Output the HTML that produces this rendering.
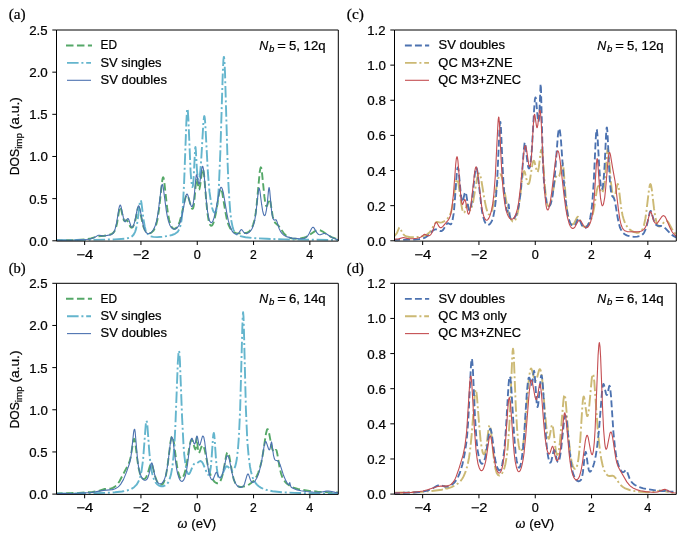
<!DOCTYPE html><html><head><meta charset="utf-8"><style>html,body{margin:0;padding:0;background:#fff;}svg{display:block;will-change:transform;}</style></head><body>
<svg width="685" height="540" viewBox="0 0 685 540" font-family='"Liberation Sans", sans-serif' fill="#000">
<style>text{stroke:#000;stroke-width:0.22px;}</style>
<rect width="685" height="540" fill="#fff"/>
<clipPath id="clipa"><rect x="56.5" y="30.0" width="281.5" height="210.8"/></clipPath>
<g clip-path="url(#clipa)" fill="none" stroke-linejoin="round">
<path d="M55.1,240.5 74.2,240.1 85.4,239.3 90.9,238.4 98.4,236.2 104.3,235.8 107.1,235.3 109.8,234.6 111.8,233.8 113.2,232.9 114.2,231.7 115.0,230.3 115.9,228.1 117.1,223.0 119.3,209.2 119.9,207.2 120.3,206.9 120.7,207.6 121.1,208.9 122.8,216.9 123.8,220.1 124.2,220.7 124.6,220.9 125.0,220.9 126.4,220.1 127.0,220.2 127.8,221.4 130.1,226.3 130.9,227.3 131.7,227.7 132.3,227.4 132.9,226.9 134.1,224.4 135.4,220.1 137.6,209.4 138.2,207.7 138.6,207.4 138.8,207.5 139.2,208.2 139.8,210.3 142.7,224.2 143.5,226.9 144.5,229.4 145.9,231.6 147.6,232.8 149.4,233.2 150.4,233.0 151.4,232.6 153.3,230.9 154.9,228.3 156.1,225.1 157.3,220.3 159.1,208.9 162.0,182.2 162.6,178.5 163.0,177.4 163.2,177.3 163.6,178.0 164.2,181.2 167.1,207.4 168.1,214.5 169.1,219.7 170.5,224.5 171.9,227.3 172.8,228.2 173.6,228.7 174.4,228.8 175.4,228.6 176.6,227.6 177.6,226.2 178.7,224.2 179.7,221.5 181.5,214.9 184.8,200.0 185.6,197.2 186.4,195.6 186.8,195.3 187.2,195.3 187.6,195.7 188.2,196.8 190.8,205.8 191.7,208.0 192.1,208.7 192.5,208.9 193.1,208.2 193.7,205.9 194.3,201.6 195.9,182.8 196.5,178.7 196.7,178.4 197.1,179.3 198.6,188.3 199.0,189.3 199.2,189.4 199.4,189.1 200.2,185.2 202.0,171.2 202.4,169.5 202.8,169.0 203.4,170.7 204.1,175.1 206.5,204.0 207.5,213.6 208.7,220.9 209.3,223.2 210.2,225.0 210.6,225.5 211.2,225.8 211.6,225.7 212.2,225.2 213.2,223.5 214.2,220.7 216.0,212.6 219.3,192.5 220.1,189.4 220.5,188.6 220.9,188.5 221.5,189.6 222.3,192.9 225.2,210.8 226.8,219.0 228.4,224.6 230.3,228.5 231.5,230.2 232.9,231.6 234.3,232.4 236.2,233.1 238.6,233.4 241.7,233.4 244.7,233.1 246.9,232.6 248.2,232.0 249.4,231.2 250.4,230.2 251.4,228.7 253.0,225.1 254.5,219.9 255.7,212.9 256.7,204.7 259.7,172.0 260.4,168.3 260.8,167.3 261.2,167.7 261.8,170.7 264.4,196.7 265.2,202.5 265.8,205.1 266.4,206.2 266.7,206.2 267.1,205.8 268.9,199.8 269.3,199.1 269.7,199.3 270.5,202.2 272.7,216.4 273.4,219.0 274.2,221.3 275.4,223.1 277.6,224.9 279.0,226.4 283.5,232.8 285.8,235.3 288.4,237.2 291.6,238.4 295.9,238.8 300.6,238.4 303.4,237.8 306.1,236.8 308.7,235.4 315.0,231.1 317.1,230.3 319.1,230.1 320.7,230.5 322.3,231.3 328.2,235.3 331.5,237.1 335.1,238.4 339.4,239.4" stroke="#55A868" stroke-width="1.9" stroke-dasharray="7.5 3.45"/>
<path d="M55.1,240.2 92.9,239.9 114.8,239.4 125.0,238.7 128.1,238.1 130.3,237.4 132.3,236.1 133.7,234.5 135.0,232.1 136.0,229.1 136.8,225.5 137.6,220.5 139.8,202.7 140.2,200.9 140.7,200.3 141.1,201.1 141.5,203.1 143.5,219.3 144.7,226.5 145.5,229.6 146.3,231.8 147.4,233.6 148.6,235.0 150.6,236.3 153.3,236.9 157.1,237.1 162.0,236.8 167.5,236.1 171.9,235.0 175.0,233.8 177.2,232.3 178.2,231.1 179.3,229.3 180.7,224.9 181.7,219.0 182.7,208.9 184.1,183.1 186.4,121.0 187.0,110.9 187.4,108.7 187.8,110.4 188.4,119.5 190.6,171.8 191.3,180.6 192.1,186.5 192.3,187.0 192.5,187.0 192.9,185.8 193.5,180.5 195.1,149.4 195.3,147.4 195.5,147.0 195.9,151.1 196.9,169.6 197.6,176.5 198.0,179.0 198.2,179.6 198.6,180.1 199.0,179.5 199.6,176.8 200.4,170.1 201.2,160.0 203.4,122.2 204.1,116.6 204.3,116.1 204.5,116.3 204.9,119.0 205.3,124.2 207.9,172.7 209.5,191.9 210.8,201.1 212.2,208.0 213.0,210.5 213.8,212.1 214.6,212.7 215.2,212.4 215.8,211.3 216.3,210.1 217.3,204.8 218.1,197.3 218.9,185.9 220.3,153.1 222.8,72.4 223.4,60.2 223.8,56.9 224.0,56.9 224.4,60.1 225.0,72.4 227.6,162.4 228.4,183.5 229.3,199.0 230.3,212.2 231.3,220.6 232.7,227.4 233.5,229.8 234.5,231.8 235.6,233.2 236.8,234.4 238.4,235.3 240.2,236.1 245.5,237.2 253.8,238.1 266.9,238.8 284.5,239.4 339.4,240.1" stroke="#64B5CD" stroke-width="1.9" stroke-dasharray="11.6 2.8 2.0 2.8"/>
<path d="M55.1,240.4 75.8,240.1 86.6,239.5 90.0,239.0 92.7,238.3 94.5,237.5 97.6,235.6 98.6,235.2 99.6,235.2 102.2,235.9 104.1,236.0 110.2,234.9 111.8,234.4 112.8,233.6 113.6,232.6 114.4,231.0 115.2,228.7 116.7,222.3 118.9,208.7 119.5,206.2 120.1,205.1 120.5,205.3 121.1,206.8 123.4,217.7 124.4,221.0 125.0,221.8 125.6,221.7 127.4,218.8 128.1,218.6 128.9,219.9 130.9,226.0 131.5,227.0 132.1,227.3 132.9,226.7 133.9,224.3 135.0,220.3 137.4,208.3 138.2,206.1 138.6,205.8 138.8,205.9 139.4,206.9 140.0,209.1 142.9,223.8 143.7,227.1 144.7,230.1 145.7,232.0 147.0,233.2 148.4,233.7 150.0,233.3 151.8,231.8 153.7,229.2 155.1,226.0 156.3,221.9 157.3,217.3 158.3,211.1 161.2,188.1 161.8,185.1 162.2,184.4 162.6,184.7 163.2,187.1 166.3,210.6 167.3,216.4 168.5,221.4 169.9,225.2 170.7,226.6 171.7,227.9 172.8,228.7 173.8,229.1 174.8,229.1 175.8,228.8 177.2,227.7 178.5,226.0 179.7,223.6 180.7,220.7 182.5,213.2 185.4,197.9 186.0,195.6 186.6,194.3 186.8,194.1 187.2,194.1 188.0,195.6 190.2,203.8 191.1,205.9 191.5,206.5 191.9,206.7 192.3,206.4 192.7,205.6 193.3,203.2 193.9,199.2 195.7,179.5 196.3,175.2 196.5,174.7 196.7,174.7 196.9,175.2 198.4,182.8 198.8,183.9 199.0,184.1 199.2,184.0 199.6,183.0 200.0,181.2 201.8,168.6 202.2,166.9 202.6,166.3 202.8,166.4 203.2,167.8 203.9,172.0 206.3,200.3 207.5,211.1 208.9,218.8 209.7,221.1 210.8,222.5 211.6,222.6 212.4,221.8 213.2,220.2 214.0,217.9 215.6,211.2 219.3,191.6 220.3,188.3 220.9,187.4 221.3,187.4 221.7,187.7 222.3,189.0 223.4,193.0 226.8,213.1 228.4,220.9 230.1,226.6 231.9,230.6 232.9,232.1 233.9,233.1 234.9,233.8 236.0,234.1 237.2,234.0 238.2,233.5 239.2,232.4 240.8,229.9 241.5,229.6 242.1,230.0 243.9,232.5 244.9,233.3 246.5,233.6 247.5,233.3 248.6,232.8 250.4,231.2 252.0,228.7 253.2,225.8 254.5,221.5 255.9,213.3 258.1,193.1 258.9,188.4 259.1,188.1 259.3,188.3 259.9,190.8 261.6,204.2 262.6,210.7 263.6,214.5 264.2,215.4 264.6,215.6 265.2,215.0 265.6,213.9 266.4,210.1 267.3,203.4 268.5,190.4 268.9,187.9 269.1,187.6 269.3,188.0 269.7,190.6 271.5,210.4 272.1,214.7 273.0,218.2 273.4,219.2 274.0,220.0 274.6,220.1 275.8,219.7 276.4,220.2 277.0,221.6 279.0,228.2 280.1,230.6 281.7,233.2 283.7,235.1 285.3,236.1 287.2,236.9 292.3,238.1 299.4,238.8 302.0,238.8 304.0,238.5 305.9,237.7 307.5,236.2 308.9,234.0 311.6,228.5 312.4,227.5 313.0,227.3 313.4,227.4 314.0,227.9 316.8,232.7 317.7,233.7 318.7,234.5 319.5,234.7 320.3,234.7 323.8,233.5 325.6,233.5 327.0,234.2 330.7,236.8 332.9,238.1 335.7,239.1 339.4,239.7" stroke="#4C72B0" stroke-width="1.1"/>
</g>
<path d="M56.5,30.0H338.3V241.10000000000002H56.5Z" fill="none" stroke="#000" stroke-width="1.0" stroke-linejoin="miter"/>
<path d="M84.65,241.10v3.9 M140.95,241.10v3.9 M197.25,241.10v3.9 M253.55,241.10v3.9 M309.85,241.10v3.9 M56.50,240.80h-4.2 M56.50,198.64h-4.2 M56.50,156.48h-4.2 M56.50,114.32h-4.2 M56.50,72.16h-4.2 M56.50,30.00h-4.2" stroke="#000" stroke-width="1.0" fill="none"/>
<text x="76.35" y="258.90" font-size="12.20" textLength="16.91" lengthAdjust="spacingAndGlyphs">−4</text>
<text x="132.66" y="258.90" font-size="12.20" textLength="16.67" lengthAdjust="spacingAndGlyphs">−2</text>
<text x="193.73" y="258.90" font-size="12.20" textLength="7.04" lengthAdjust="spacingAndGlyphs">0</text>
<text x="250.00" y="258.90" font-size="12.20" textLength="6.78" lengthAdjust="spacingAndGlyphs">2</text>
<text x="306.33" y="258.90" font-size="12.20" textLength="7.04" lengthAdjust="spacingAndGlyphs">4</text>
<text x="29.29" y="245.80" font-size="12.20" textLength="18.54" lengthAdjust="spacingAndGlyphs">0.0</text>
<text x="29.29" y="203.64" font-size="12.20" textLength="18.31" lengthAdjust="spacingAndGlyphs">0.5</text>
<text x="29.32" y="161.48" font-size="12.20" textLength="18.50" lengthAdjust="spacingAndGlyphs">1.0</text>
<text x="29.33" y="119.32" font-size="12.20" textLength="18.27" lengthAdjust="spacingAndGlyphs">1.5</text>
<text x="29.22" y="77.16" font-size="12.20" textLength="18.60" lengthAdjust="spacingAndGlyphs">2.0</text>
<text x="29.23" y="35.00" font-size="12.20" textLength="18.38" lengthAdjust="spacingAndGlyphs">2.5</text>
<path d="M66.00,45.50h26" stroke="#55A868" stroke-width="1.9" stroke-dasharray="7.5 3.45" fill="none"/>
<text x="100.50" y="49.20" font-size="12.20" textLength="16.48" lengthAdjust="spacingAndGlyphs">ED</text>
<path d="M67.00,62.90h24" stroke="#64B5CD" stroke-width="1.9" stroke-dasharray="11.6 2.8 2.0 2.8" fill="none"/>
<text x="100.50" y="66.60" font-size="12.20" textLength="61.10" lengthAdjust="spacingAndGlyphs">SV singles</text>
<path d="M67.00,80.30h24" stroke="#4C72B0" stroke-width="1.1" fill="none"/>
<text x="100.50" y="84.00" font-size="12.20" textLength="66.47" lengthAdjust="spacingAndGlyphs">SV doubles</text>
<text x="259.30" y="49.90" font-size="12.2" text-anchor="start" textLength="8.98" lengthAdjust="spacingAndGlyphs" font-style="italic">N</text>
<text x="269.10" y="51.90" font-size="8.6" text-anchor="start" textLength="5.33" lengthAdjust="spacingAndGlyphs" font-style="italic">b</text>
<text x="277.30" y="49.90" font-size="12.2" text-anchor="start" textLength="8.60" lengthAdjust="spacingAndGlyphs">=</text>
<text x="289.00" y="49.90" font-size="12.2" text-anchor="start" textLength="36.55" lengthAdjust="spacingAndGlyphs">5, 12q</text>
<clipPath id="clipb"><rect x="56.5" y="283.3" width="281.5" height="210.8"/></clipPath>
<g clip-path="url(#clipb)" fill="none" stroke-linejoin="round">
<path d="M55.1,493.4 78.9,492.9 92.5,492.0 98.4,491.0 104.7,489.0 109.2,488.8 110.8,488.6 112.8,487.9 114.6,486.9 117.1,484.7 119.5,481.3 128.9,463.3 129.9,460.3 130.7,457.0 133.1,442.1 133.7,439.5 134.1,438.8 134.6,439.3 135.2,442.1 137.4,460.2 138.6,468.0 140.0,473.8 141.5,477.2 142.5,478.5 143.7,479.1 144.7,478.9 145.7,477.9 146.5,476.5 147.4,474.5 150.2,465.1 150.8,464.0 151.4,463.8 151.8,464.3 152.4,465.7 155.3,476.8 156.9,481.3 157.9,483.1 159.1,484.4 160.4,485.0 161.6,484.9 162.8,483.9 163.8,482.2 164.8,479.6 165.9,475.7 167.5,466.3 170.5,442.1 171.3,437.9 171.7,436.7 172.2,436.3 172.6,436.6 173.0,437.7 173.8,441.7 176.4,462.0 177.8,470.7 179.3,476.0 179.9,477.3 180.7,478.3 181.1,478.6 181.7,478.5 182.3,478.1 182.9,477.4 183.9,475.2 185.0,471.9 186.6,464.3 189.6,445.6 190.8,440.8 191.3,440.1 191.7,439.9 192.1,440.1 192.5,440.8 194.7,448.2 195.3,449.4 195.7,448.7 195.9,447.4 196.7,437.7 196.9,437.3 198.0,450.2 198.4,452.4 198.8,452.9 199.4,452.3 201.2,447.5 202.0,445.8 202.4,445.4 202.8,445.3 203.4,446.0 204.7,449.7 207.7,464.7 209.5,471.9 210.6,474.9 211.8,477.7 213.0,479.9 214.4,481.7 216.3,483.0 217.3,483.3 218.1,483.2 219.5,482.3 220.9,480.0 221.9,477.2 223.0,473.2 226.2,455.6 227.0,452.9 227.6,452.2 228.2,452.7 229.1,455.2 232.7,475.3 233.9,479.9 235.2,483.0 236.8,485.3 237.8,486.1 238.8,486.6 240.0,486.8 241.7,486.9 245.1,486.2 247.3,485.4 249.4,484.3 251.2,483.0 253.0,481.4 254.5,479.7 255.9,477.7 257.1,475.4 258.3,472.6 259.9,467.8 261.4,462.0 263.0,453.3 266.0,433.4 266.9,430.0 267.3,429.2 267.7,429.1 268.3,429.9 268.9,432.0 271.3,444.9 272.5,449.7 273.4,451.5 274.0,451.9 274.6,451.6 275.8,449.9 276.2,449.9 276.6,450.6 277.4,454.3 279.5,467.1 281.1,473.8 282.3,477.1 283.5,479.5 285.1,481.8 287.0,483.8 289.8,485.8 293.5,487.6 297.7,488.9 303.0,490.0 309.5,490.9 317.5,491.6 322.5,491.9 324.2,491.5 326.4,492.1 339.4,492.6" stroke="#55A868" stroke-width="1.9" stroke-dasharray="7.5 3.45"/>
<path d="M55.1,493.7 93.9,493.2 106.1,492.8 115.0,492.3 122.0,491.5 127.0,490.5 131.1,489.1 134.1,487.2 136.6,484.7 138.6,481.3 140.2,476.7 141.5,471.3 143.1,459.5 145.7,425.3 146.1,421.9 146.5,420.7 147.0,422.1 147.4,425.7 149.2,450.7 150.2,461.4 151.4,470.0 153.0,476.9 154.3,480.1 155.5,482.3 157.1,484.2 158.9,485.5 161.2,486.3 163.4,486.2 165.4,485.4 167.1,484.0 168.3,482.3 169.3,480.2 170.9,474.8 172.4,466.7 173.6,455.3 174.6,441.0 175.4,425.3 177.8,362.8 178.5,353.0 178.9,350.7 179.1,350.9 179.3,352.1 179.9,360.6 182.1,417.7 183.5,444.9 184.3,455.2 185.4,464.1 186.4,469.6 187.4,472.8 187.8,473.5 188.4,474.0 189.0,474.0 189.6,473.4 190.6,471.4 192.7,466.1 193.9,464.1 194.7,463.6 196.9,463.2 199.6,461.3 200.6,461.0 201.6,461.5 202.8,463.2 207.3,473.8 208.3,474.9 208.7,474.9 209.1,474.5 210.0,472.3 210.8,467.1 211.6,458.2 213.0,437.9 213.4,434.2 213.8,433.0 214.2,434.6 214.6,438.5 216.0,459.6 216.9,468.9 217.7,474.5 218.1,476.2 218.7,477.7 219.1,478.2 219.7,478.4 220.3,478.0 220.9,477.3 222.1,475.1 225.0,468.4 225.8,467.0 226.4,466.4 227.0,466.3 227.8,466.6 230.3,469.5 231.3,470.4 232.3,470.6 233.3,470.1 234.3,468.5 235.2,466.4 236.0,463.3 236.8,459.0 238.0,448.8 239.0,435.1 240.2,407.7 242.3,328.5 242.7,316.5 243.1,312.2 243.5,316.7 243.9,328.8 245.9,409.0 247.3,440.6 248.6,455.9 250.0,466.7 250.8,470.8 251.8,474.8 252.8,477.8 254.1,480.5 255.5,482.8 256.9,484.6 258.7,486.3 260.8,487.6 263.2,488.8 265.8,489.8 272.5,491.2 281.7,492.2 294.7,492.9 313.0,493.3 339.4,493.6" stroke="#64B5CD" stroke-width="1.9" stroke-dasharray="11.6 2.8 2.0 2.8"/>
<path d="M55.1,493.6 78.1,493.2 90.7,492.5 95.3,491.9 103.7,490.4 112.4,489.6 115.2,488.8 117.9,487.1 119.3,485.8 120.7,484.1 123.4,479.6 126.4,472.4 129.3,464.0 130.5,459.0 131.3,454.1 133.5,433.4 133.9,430.6 134.4,429.3 134.6,429.3 134.8,429.8 135.2,432.2 137.4,457.7 138.2,464.6 139.0,469.4 140.0,473.5 141.5,477.1 142.9,479.2 143.7,479.9 144.5,480.3 145.5,480.3 146.3,479.8 147.2,478.9 148.0,477.3 149.2,473.4 151.0,464.6 151.4,463.3 151.8,462.9 152.2,463.4 152.6,464.8 155.1,476.7 156.1,479.7 157.1,481.7 157.9,482.8 158.7,483.4 159.6,483.8 160.4,483.8 161.2,483.6 162.0,483.1 163.4,481.4 164.4,479.4 165.2,477.1 166.7,471.1 168.1,462.0 170.5,441.9 171.3,437.8 171.7,437.0 171.9,437.0 172.6,438.4 173.2,441.8 175.8,463.2 176.6,468.6 177.6,473.6 178.9,477.7 180.1,480.2 181.3,481.3 182.1,481.4 182.7,481.1 183.7,479.9 184.5,478.3 185.4,475.8 186.2,472.4 187.6,463.8 190.0,444.5 190.6,440.9 191.3,438.8 191.7,438.2 191.9,438.2 192.3,438.6 193.9,443.1 194.3,443.9 194.7,444.0 195.3,442.9 196.7,436.4 196.9,436.1 197.1,436.2 197.6,437.5 198.8,443.9 199.2,444.9 199.6,445.2 200.0,444.7 200.4,443.7 202.2,437.1 202.6,436.3 203.0,436.0 203.4,436.5 203.9,437.6 204.7,441.8 207.3,462.6 208.7,471.5 210.2,477.0 211.0,478.8 211.8,479.7 212.6,479.7 213.4,478.8 215.6,473.1 216.3,472.3 216.7,472.3 217.1,472.9 218.5,476.2 219.3,477.5 220.1,477.9 220.5,477.7 221.1,477.1 221.9,475.4 223.0,472.2 226.2,458.0 227.0,456.0 227.6,455.7 228.0,456.0 228.4,456.7 229.3,459.4 232.1,473.1 233.7,479.3 235.4,483.2 237.2,485.8 238.6,486.8 240.2,487.4 241.9,487.2 243.1,486.4 243.9,485.3 244.5,484.0 246.9,475.7 247.5,474.3 248.0,474.0 248.4,474.3 248.8,475.1 250.4,479.8 251.2,481.4 251.8,482.1 252.4,482.4 253.6,482.1 255.1,480.8 256.7,478.2 258.1,475.1 259.3,471.4 261.4,462.6 264.2,445.6 265.2,441.9 265.6,441.5 266.2,441.9 268.5,448.7 268.9,449.5 269.3,449.9 269.7,449.6 270.1,448.5 271.1,443.1 271.5,441.9 271.9,443.3 273.4,454.8 274.4,458.8 274.8,459.6 275.4,460.2 277.6,460.8 278.8,462.0 280.1,464.6 283.7,475.8 285.8,480.6 287.4,483.4 288.6,484.7 289.0,484.6 289.8,482.5 290.6,486.0 291.0,486.9 291.6,487.5 294.1,488.8 297.1,489.9 301.0,490.8 305.9,491.5 312.8,492.0 318.7,492.2 321.7,492.0 326.6,491.1 328.4,491.0 330.3,491.2 335.3,492.4 339.4,492.9" stroke="#4C72B0" stroke-width="1.1"/>
</g>
<path d="M56.5,283.3H338.3V494.40000000000003H56.5Z" fill="none" stroke="#000" stroke-width="1.0" stroke-linejoin="miter"/>
<path d="M84.65,494.40v3.9 M140.95,494.40v3.9 M197.25,494.40v3.9 M253.55,494.40v3.9 M309.85,494.40v3.9 M56.50,494.10h-4.2 M56.50,451.94h-4.2 M56.50,409.78h-4.2 M56.50,367.62h-4.2 M56.50,325.46h-4.2 M56.50,283.30h-4.2" stroke="#000" stroke-width="1.0" fill="none"/>
<text x="76.35" y="512.20" font-size="12.20" textLength="16.91" lengthAdjust="spacingAndGlyphs">−4</text>
<text x="132.66" y="512.20" font-size="12.20" textLength="16.67" lengthAdjust="spacingAndGlyphs">−2</text>
<text x="193.73" y="512.20" font-size="12.20" textLength="7.04" lengthAdjust="spacingAndGlyphs">0</text>
<text x="250.00" y="512.20" font-size="12.20" textLength="6.78" lengthAdjust="spacingAndGlyphs">2</text>
<text x="306.33" y="512.20" font-size="12.20" textLength="7.04" lengthAdjust="spacingAndGlyphs">4</text>
<text x="29.29" y="499.10" font-size="12.20" textLength="18.54" lengthAdjust="spacingAndGlyphs">0.0</text>
<text x="29.29" y="456.94" font-size="12.20" textLength="18.31" lengthAdjust="spacingAndGlyphs">0.5</text>
<text x="29.32" y="414.78" font-size="12.20" textLength="18.50" lengthAdjust="spacingAndGlyphs">1.0</text>
<text x="29.33" y="372.62" font-size="12.20" textLength="18.27" lengthAdjust="spacingAndGlyphs">1.5</text>
<text x="29.22" y="330.46" font-size="12.20" textLength="18.60" lengthAdjust="spacingAndGlyphs">2.0</text>
<text x="29.23" y="288.30" font-size="12.20" textLength="18.38" lengthAdjust="spacingAndGlyphs">2.5</text>
<path d="M66.00,298.80h26" stroke="#55A868" stroke-width="1.9" stroke-dasharray="7.5 3.45" fill="none"/>
<text x="100.50" y="302.50" font-size="12.20" textLength="16.48" lengthAdjust="spacingAndGlyphs">ED</text>
<path d="M67.00,316.20h24" stroke="#64B5CD" stroke-width="1.9" stroke-dasharray="11.6 2.8 2.0 2.8" fill="none"/>
<text x="100.50" y="319.90" font-size="12.20" textLength="61.10" lengthAdjust="spacingAndGlyphs">SV singles</text>
<path d="M67.00,333.60h24" stroke="#4C72B0" stroke-width="1.1" fill="none"/>
<text x="100.50" y="337.30" font-size="12.20" textLength="66.47" lengthAdjust="spacingAndGlyphs">SV doubles</text>
<text x="259.30" y="303.20" font-size="12.2" text-anchor="start" textLength="8.98" lengthAdjust="spacingAndGlyphs" font-style="italic">N</text>
<text x="269.10" y="305.20" font-size="8.6" text-anchor="start" textLength="5.33" lengthAdjust="spacingAndGlyphs" font-style="italic">b</text>
<text x="277.30" y="303.20" font-size="12.2" text-anchor="start" textLength="8.60" lengthAdjust="spacingAndGlyphs">=</text>
<text x="289.00" y="303.20" font-size="12.2" text-anchor="start" textLength="36.55" lengthAdjust="spacingAndGlyphs">6, 14q</text>
<clipPath id="clipc"><rect x="394.5" y="30.0" width="281.5" height="210.8"/></clipPath>
<g clip-path="url(#clipc)" fill="none" stroke-linejoin="round">
<path d="M393.1,236.9 394.7,235.8 396.1,234.2 397.2,232.4 398.8,228.5 399.2,227.8 399.6,227.5 400.2,228.1 402.0,232.2 403.3,234.2 404.7,235.6 406.7,236.5 410.2,237.2 414.8,237.2 419.9,236.7 424.2,235.7 427.2,234.3 429.7,232.2 431.5,229.6 434.8,223.8 436.0,222.4 436.6,222.0 437.4,221.9 440.2,222.6 441.9,222.4 444.1,221.3 447.2,219.0 448.6,217.4 449.6,215.8 450.6,213.4 451.4,210.7 453.0,202.3 455.7,183.5 456.5,179.9 457.1,179.1 457.7,180.1 458.3,182.7 461.4,205.0 462.2,209.2 463.0,211.9 463.4,212.6 463.8,212.9 464.2,212.7 464.6,212.1 465.2,210.4 466.5,205.6 467.1,204.3 467.3,204.3 467.7,204.9 469.3,209.6 469.9,210.2 470.5,210.1 471.1,209.1 471.7,207.5 473.0,202.5 477.2,177.8 478.2,174.4 478.7,173.7 479.1,173.5 479.5,173.7 480.1,174.8 481.1,178.6 484.7,200.8 486.2,207.9 487.6,212.5 488.4,213.9 489.2,214.5 489.8,214.4 490.6,213.5 491.5,211.7 492.3,209.2 493.9,202.1 496.9,184.8 498.2,178.8 499.0,176.1 499.6,174.8 500.2,174.3 500.8,174.6 501.8,176.9 502.8,181.1 506.9,204.6 509.1,214.5 510.4,218.1 511.6,220.4 512.8,221.5 513.4,221.6 514.0,221.4 515.2,220.1 516.2,217.9 517.3,214.6 518.1,210.9 519.7,200.4 522.3,178.1 523.0,174.2 523.6,171.8 523.8,171.4 524.2,171.1 524.8,172.0 527.2,182.2 528.0,184.0 528.4,184.1 528.6,184.0 529.3,182.7 529.9,180.3 532.3,164.9 532.9,162.2 533.5,160.8 533.9,160.7 534.5,161.8 536.4,169.6 537.0,171.5 537.4,172.0 537.6,172.0 538.0,171.3 538.8,167.4 540.6,152.4 541.0,150.3 541.4,149.6 541.7,149.7 542.1,151.3 542.7,156.4 544.7,183.8 545.7,194.8 546.7,201.9 547.3,204.4 548.0,205.8 548.6,206.3 549.2,206.0 549.8,205.1 550.4,203.6 552.0,197.0 554.5,183.0 555.5,178.3 556.1,176.5 556.7,175.8 557.3,175.8 558.5,176.7 558.9,176.6 559.3,176.1 560.1,173.3 561.8,164.1 562.4,162.6 562.8,163.2 563.0,164.1 563.6,168.9 565.8,198.4 566.9,208.6 567.9,215.3 569.3,220.6 570.1,222.4 571.1,223.7 572.1,224.3 572.9,224.2 573.8,223.6 574.6,222.5 577.0,217.5 577.6,216.8 578.0,216.8 578.4,217.0 579.0,217.9 581.3,223.4 582.5,225.5 583.3,226.3 584.1,226.7 584.9,226.7 586.0,226.5 587.8,225.2 589.4,223.1 590.8,220.3 592.1,216.8 593.1,212.9 594.1,207.8 596.9,189.9 597.9,186.4 598.4,186.0 599.0,186.4 600.8,191.2 601.6,192.6 602.0,192.7 602.4,192.5 603.2,190.7 604.0,186.6 604.7,182.0 607.1,152.6 607.5,149.5 607.7,148.8 607.9,148.7 608.3,150.4 608.7,154.1 611.0,182.8 611.8,189.6 612.6,194.0 613.0,195.4 613.6,196.5 614.0,196.7 614.6,196.1 615.6,192.8 617.3,184.8 617.7,184.0 618.1,184.3 618.9,188.7 621.1,207.4 622.5,215.2 623.6,219.1 624.8,222.5 626.0,225.0 627.6,227.4 629.4,229.3 631.7,230.9 634.1,232.1 636.4,232.7 638.4,232.7 640.0,232.1 641.2,231.1 642.5,229.3 643.9,225.5 645.3,219.0 646.5,210.5 649.0,189.5 649.8,185.1 650.4,184.1 651.0,185.1 651.8,189.5 654.0,208.4 655.3,216.8 656.3,221.5 657.5,224.9 658.1,225.8 658.7,226.4 659.3,226.6 660.1,226.4 661.4,225.4 664.8,221.3 665.8,220.8 666.8,220.9 667.7,221.6 668.7,222.9 672.1,229.2 673.7,231.7 675.6,233.9 677.4,235.4" stroke="#CCB974" stroke-width="1.9" stroke-dasharray="11.6 2.8 2.0 2.8"/>
<path d="M393.1,240.0 414.4,239.6 419.1,239.2 422.6,238.6 425.0,237.7 427.2,236.3 429.1,234.7 432.5,231.0 434.1,229.8 435.2,229.4 436.2,229.4 440.0,231.0 440.9,231.1 441.7,231.0 442.7,230.3 443.5,229.4 446.1,224.8 447.2,223.5 448.2,223.2 450.2,224.3 450.8,224.3 451.2,224.0 451.8,223.0 452.4,221.1 453.7,213.4 454.7,202.3 456.7,174.3 457.3,169.0 457.7,167.5 457.9,167.4 458.3,168.5 458.7,171.2 460.8,193.9 461.8,200.9 462.2,201.9 462.4,202.0 462.8,201.5 464.6,193.5 465.0,192.4 465.4,192.2 465.8,193.0 466.3,194.7 468.3,207.3 468.9,209.6 469.5,210.4 469.9,210.1 470.3,209.3 471.3,204.8 472.4,197.3 475.0,172.6 475.8,168.4 476.2,167.6 476.6,167.9 477.2,170.2 477.8,174.3 481.3,206.2 482.1,211.5 483.1,216.6 484.5,221.3 485.4,222.9 486.2,224.1 487.0,224.7 488.0,225.0 489.0,224.7 490.0,223.9 491.0,222.5 491.9,220.9 493.3,216.6 494.7,209.3 495.7,201.1 497.1,182.2 499.4,131.5 499.8,124.7 500.2,121.8 500.4,122.0 500.6,123.3 501.0,129.0 502.6,166.7 503.6,185.4 504.5,195.7 505.5,204.5 506.5,209.9 506.9,211.2 507.3,211.7 507.7,210.9 508.5,204.5 508.7,204.7 509.7,215.6 510.2,217.5 510.6,218.5 511.2,219.2 512.0,219.4 513.0,219.2 514.0,218.4 515.6,216.0 517.3,211.9 518.5,207.1 519.7,200.0 521.3,184.8 523.8,149.8 524.6,143.0 524.8,142.5 525.0,142.6 525.4,144.1 527.2,160.7 528.2,167.0 528.6,168.1 529.1,168.5 529.7,167.6 530.1,166.0 531.1,158.6 531.9,148.9 534.1,109.8 534.9,99.4 535.4,97.4 535.6,97.4 536.0,99.0 537.8,118.8 538.2,121.4 538.4,121.9 538.6,121.8 539.0,119.3 539.4,113.2 540.6,83.9 540.8,84.8 541.0,89.2 542.7,156.0 543.7,178.0 544.5,188.4 545.5,196.5 546.7,202.3 547.3,204.1 548.2,205.6 548.8,206.1 549.4,206.0 550.0,205.4 550.6,204.3 551.8,200.1 552.8,194.3 554.7,177.3 557.9,135.3 558.7,129.6 559.1,128.6 559.3,128.6 559.9,130.7 560.8,137.8 563.8,181.1 565.2,197.3 566.9,210.0 567.7,214.5 568.7,218.7 569.5,221.2 570.5,223.5 571.5,225.0 572.7,225.9 573.4,226.1 574.0,225.9 575.0,225.1 576.0,223.4 577.8,219.1 578.2,218.6 578.6,218.4 579.0,218.6 579.5,219.3 581.7,224.9 583.1,227.1 584.1,227.7 585.1,227.8 586.2,227.3 587.2,226.2 588.0,224.9 588.8,223.0 590.2,218.0 591.2,212.1 592.3,203.2 593.7,182.8 595.7,139.5 596.1,133.2 596.5,129.8 596.7,129.4 596.9,129.8 597.5,135.9 599.2,166.2 600.2,180.6 601.0,187.1 601.4,188.8 601.6,189.3 602.0,189.4 602.6,187.8 603.0,185.4 603.8,177.3 604.7,164.0 606.1,134.3 606.5,128.9 606.7,127.6 606.9,127.5 607.3,130.4 607.7,136.9 609.5,175.3 610.1,183.9 611.0,191.3 611.4,193.6 612.0,195.7 612.4,196.4 613.8,197.9 614.6,200.1 615.4,203.9 617.5,216.8 618.7,223.0 620.1,227.9 621.7,231.2 623.3,233.2 625.2,234.6 627.4,235.6 630.3,236.4 633.9,236.8 637.2,236.7 639.8,236.1 641.8,235.1 643.1,234.0 644.1,232.7 645.7,229.2 647.1,224.3 649.6,212.9 650.2,211.3 650.6,210.9 651.0,211.1 651.6,212.4 653.4,219.1 654.4,222.2 655.3,223.9 656.1,224.9 657.5,225.8 661.4,226.0 663.4,226.8 665.2,228.2 669.7,232.9 671.9,234.9 674.6,236.6 677.4,237.8" stroke="#4C72B0" stroke-width="1.85" stroke-dasharray="6.9 3.15"/>
<path d="M393.1,239.4 398.6,238.9 403.3,237.5 406.9,238.4 409.1,238.7 413.0,238.7 416.9,238.3 418.9,237.8 420.5,237.2 422.0,236.3 423.8,234.6 424.6,234.3 425.4,234.5 427.6,235.7 428.5,235.8 429.3,235.6 430.7,234.7 431.9,232.8 432.9,230.3 435.0,223.9 435.8,222.5 436.4,222.3 437.0,222.8 438.8,226.2 439.6,227.2 440.2,227.6 441.1,227.7 441.9,227.3 442.9,226.4 448.0,220.4 449.4,218.2 450.4,215.5 451.2,212.1 452.0,207.1 453.5,193.5 455.7,164.4 456.3,159.0 456.9,156.7 457.1,156.7 457.3,157.1 457.9,160.6 460.8,195.7 461.6,202.0 462.2,204.2 462.4,204.5 462.8,204.4 464.4,199.8 464.8,199.4 465.0,199.6 465.6,201.4 467.7,212.6 468.1,213.7 468.5,214.2 468.9,214.0 469.3,213.3 470.1,210.2 471.1,203.7 474.6,172.6 475.4,168.2 475.8,167.1 476.2,166.9 476.8,168.1 477.6,172.3 481.1,202.3 481.9,207.8 482.9,213.1 484.1,217.3 485.4,219.5 486.0,220.0 486.6,220.2 487.2,220.1 488.0,219.4 489.0,217.9 489.8,216.1 491.5,210.5 492.7,203.9 493.9,194.0 495.3,175.9 497.8,126.0 498.2,119.9 498.6,117.1 498.8,117.1 499.0,118.2 499.6,126.3 501.2,161.2 502.2,178.7 503.2,191.3 504.5,201.5 505.3,206.3 506.3,210.8 507.3,214.0 508.3,216.3 509.5,218.1 510.8,219.1 511.6,219.3 512.2,219.3 513.4,218.6 514.8,216.6 516.2,213.2 517.5,208.6 518.7,202.0 520.5,187.3 523.6,154.2 524.6,147.2 525.2,145.7 525.6,145.9 526.0,147.1 526.6,150.2 528.6,163.9 529.5,166.7 529.9,166.8 530.1,166.5 530.9,162.4 531.5,156.0 533.3,125.3 534.1,115.7 534.5,114.3 534.9,115.1 536.4,125.6 536.8,127.4 537.0,127.7 537.2,127.6 537.8,125.1 539.2,112.9 539.8,110.2 540.0,110.2 540.2,110.7 540.4,111.8 541.2,121.7 543.5,171.2 544.7,192.3 545.9,204.5 546.5,207.7 547.3,209.7 548.0,209.9 548.8,208.5 550.2,202.6 551.8,191.5 555.7,158.5 556.9,152.3 557.5,151.0 557.9,150.9 558.3,151.3 558.9,153.2 560.1,160.3 564.0,195.3 565.8,209.0 567.5,217.7 569.3,224.1 570.3,226.3 571.3,227.7 572.3,228.4 573.4,228.4 574.2,227.8 575.2,226.6 578.2,221.1 579.0,220.3 579.7,220.2 580.3,220.4 580.9,221.0 583.5,225.5 584.9,227.2 585.5,227.6 586.4,227.8 587.2,227.5 588.0,227.0 589.4,224.9 590.8,221.2 592.1,216.1 593.1,209.5 594.3,197.1 596.3,165.1 596.9,159.1 597.1,158.6 597.3,158.8 597.7,161.6 599.6,188.2 600.6,198.7 601.6,204.2 602.0,205.3 602.2,205.6 602.6,205.7 603.2,204.8 603.6,203.5 604.7,197.6 605.7,188.0 608.1,159.4 608.9,153.8 609.5,152.5 609.9,152.9 610.5,155.2 612.6,167.8 615.0,180.8 618.3,208.6 619.7,218.5 620.5,222.4 621.3,225.3 622.3,227.8 623.3,229.4 624.4,230.4 625.6,231.1 627.2,231.6 629.2,231.8 635.5,231.9 638.4,231.8 640.8,231.2 642.7,230.4 643.7,229.6 644.7,228.4 646.3,225.4 647.5,221.8 649.8,212.9 650.2,212.0 650.6,211.7 651.0,212.0 651.4,213.0 653.8,221.0 654.8,222.7 655.9,223.4 656.9,223.3 657.9,222.4 661.4,217.2 662.4,216.1 663.0,215.7 663.6,215.6 664.6,216.2 665.4,217.2 666.2,218.7 669.9,227.5 671.9,231.5 673.1,233.2 674.4,234.6 675.8,235.8 677.4,236.7" stroke="#C44E52" stroke-width="1.1"/>
</g>
<path d="M394.5,30.0H676.3V241.10000000000002H394.5Z" fill="none" stroke="#000" stroke-width="1.0" stroke-linejoin="miter"/>
<path d="M422.65,241.10v3.9 M478.95,241.10v3.9 M535.25,241.10v3.9 M591.55,241.10v3.9 M647.85,241.10v3.9 M394.50,240.80h-4.2 M394.50,205.67h-4.2 M394.50,170.53h-4.2 M394.50,135.40h-4.2 M394.50,100.27h-4.2 M394.50,65.13h-4.2 M394.50,30.00h-4.2" stroke="#000" stroke-width="1.0" fill="none"/>
<text x="414.35" y="258.90" font-size="12.20" textLength="16.91" lengthAdjust="spacingAndGlyphs">−4</text>
<text x="470.66" y="258.90" font-size="12.20" textLength="16.67" lengthAdjust="spacingAndGlyphs">−2</text>
<text x="531.73" y="258.90" font-size="12.20" textLength="7.04" lengthAdjust="spacingAndGlyphs">0</text>
<text x="588.00" y="258.90" font-size="12.20" textLength="6.78" lengthAdjust="spacingAndGlyphs">2</text>
<text x="644.33" y="258.90" font-size="12.20" textLength="7.04" lengthAdjust="spacingAndGlyphs">4</text>
<text x="367.29" y="245.80" font-size="12.20" textLength="18.54" lengthAdjust="spacingAndGlyphs">0.0</text>
<text x="367.29" y="210.67" font-size="12.20" textLength="18.27" lengthAdjust="spacingAndGlyphs">0.2</text>
<text x="367.29" y="175.53" font-size="12.20" textLength="18.53" lengthAdjust="spacingAndGlyphs">0.4</text>
<text x="367.28" y="140.40" font-size="12.20" textLength="18.65" lengthAdjust="spacingAndGlyphs">0.6</text>
<text x="367.29" y="105.27" font-size="12.20" textLength="18.58" lengthAdjust="spacingAndGlyphs">0.8</text>
<text x="367.32" y="70.13" font-size="12.20" textLength="18.50" lengthAdjust="spacingAndGlyphs">1.0</text>
<text x="367.34" y="35.00" font-size="12.20" textLength="18.22" lengthAdjust="spacingAndGlyphs">1.2</text>
<path d="M404.90,45.50h24.3" stroke="#4C72B0" stroke-width="1.85" stroke-dasharray="6.9 3.15" fill="none"/>
<text x="438.50" y="49.20" font-size="12.20" textLength="66.47" lengthAdjust="spacingAndGlyphs">SV doubles</text>
<path d="M405.00,62.90h24" stroke="#CCB974" stroke-width="1.9" stroke-dasharray="11.6 2.8 2.0 2.8" fill="none"/>
<text x="438.36" y="66.60" font-size="12.20" textLength="74.18" lengthAdjust="spacingAndGlyphs">QC M3+ZNE</text>
<path d="M405.00,80.30h24" stroke="#C44E52" stroke-width="1.1" fill="none"/>
<text x="438.37" y="84.00" font-size="12.20" textLength="82.61" lengthAdjust="spacingAndGlyphs">QC M3+ZNEC</text>
<text x="597.30" y="49.90" font-size="12.2" text-anchor="start" textLength="8.98" lengthAdjust="spacingAndGlyphs" font-style="italic">N</text>
<text x="607.10" y="51.90" font-size="8.6" text-anchor="start" textLength="5.33" lengthAdjust="spacingAndGlyphs" font-style="italic">b</text>
<text x="615.30" y="49.90" font-size="12.2" text-anchor="start" textLength="8.60" lengthAdjust="spacingAndGlyphs">=</text>
<text x="627.00" y="49.90" font-size="12.2" text-anchor="start" textLength="36.55" lengthAdjust="spacingAndGlyphs">5, 12q</text>
<clipPath id="clipd"><rect x="394.5" y="283.3" width="281.5" height="210.8"/></clipPath>
<g clip-path="url(#clipd)" fill="none" stroke-linejoin="round">
<path d="M393.1,492.8 410.2,492.3 423.4,491.7 433.7,490.8 441.7,489.7 443.1,489.4 443.7,488.9 444.1,487.9 444.7,484.4 444.9,484.2 445.7,488.1 446.1,488.5 447.2,488.5 451.6,487.1 455.3,485.3 458.3,483.2 461.0,480.5 462.4,478.5 463.6,476.4 465.6,471.7 467.5,465.4 469.1,457.2 470.3,448.5 471.5,436.7 474.8,394.6 475.4,390.5 475.8,389.7 476.4,391.8 477.0,397.2 479.3,426.4 480.5,439.2 481.5,446.8 482.7,452.5 483.5,454.2 484.1,454.4 484.7,453.6 485.4,451.6 486.4,446.0 488.6,428.7 489.2,425.9 489.6,425.3 489.8,425.3 490.4,427.2 491.0,431.2 493.7,457.3 494.5,463.5 495.5,469.0 496.7,473.0 498.0,474.9 498.8,475.4 499.6,475.5 500.4,475.2 501.4,474.2 502.4,472.7 503.4,470.6 504.5,467.6 505.3,464.5 506.7,456.6 507.9,446.1 509.5,422.7 512.2,357.8 512.6,351.3 513.0,348.7 513.4,350.7 513.8,356.7 515.8,407.1 517.1,429.0 517.9,438.6 518.7,445.2 519.5,449.2 519.9,450.4 520.5,451.4 520.9,451.5 521.3,451.1 522.3,448.3 523.2,444.1 524.0,438.1 525.4,423.4 528.4,383.9 529.3,375.8 530.1,370.6 530.7,368.8 531.1,368.5 531.5,368.9 532.3,371.2 534.3,379.4 534.9,380.7 535.6,380.9 536.2,380.2 536.8,378.6 539.0,370.3 539.6,369.2 540.0,369.1 540.6,370.2 541.0,371.7 542.1,378.4 546.1,424.7 547.1,433.3 548.2,438.0 548.6,438.6 548.8,438.7 549.4,437.6 551.6,426.0 552.0,425.0 552.2,424.8 552.4,425.0 552.8,426.2 553.4,430.1 555.1,445.0 555.9,450.9 556.3,452.9 556.9,454.5 557.3,454.8 557.9,454.1 558.9,449.9 559.9,442.4 563.4,400.6 564.0,396.1 564.4,394.8 564.6,394.8 565.2,397.0 565.8,402.2 568.7,438.8 570.5,455.1 571.7,461.9 572.9,466.1 573.6,467.5 574.4,468.6 575.2,469.0 575.8,468.6 576.8,466.8 577.6,463.9 578.4,459.1 579.0,454.1 580.3,439.6 582.3,407.1 582.9,400.1 583.3,397.4 583.7,396.5 583.9,396.7 584.3,398.1 586.6,414.3 587.2,416.1 587.4,416.1 587.8,415.6 588.4,413.0 589.2,406.7 591.8,378.3 592.5,374.8 592.9,374.1 593.1,374.2 593.5,375.5 594.3,381.8 597.7,429.1 598.8,440.3 600.0,450.9 601.2,458.7 602.6,465.3 604.2,470.4 606.1,473.9 607.3,475.2 608.5,475.9 609.7,476.0 612.4,475.7 613.8,476.1 615.4,477.8 619.5,483.7 621.7,486.1 623.3,487.3 625.2,488.4 629.6,490.0 633.3,490.8 637.6,491.5 647.7,492.2 653.0,492.0 659.5,490.7 662.0,490.6 663.8,490.9 670.5,492.5 677.4,493.1" stroke="#CCB974" stroke-width="1.9" stroke-dasharray="11.6 2.8 2.0 2.8"/>
<path d="M393.1,493.1 412.6,492.5 419.1,492.0 424.0,491.3 427.4,490.6 430.5,489.5 432.9,488.3 437.0,485.8 438.8,485.2 440.4,485.3 444.9,486.6 446.5,486.6 448.2,486.5 450.6,485.6 452.8,484.1 454.9,482.0 456.9,479.1 458.3,476.3 459.8,473.0 462.4,464.5 464.6,454.1 466.3,443.1 467.3,433.3 468.3,419.7 470.9,366.7 471.3,361.2 471.7,358.7 471.9,358.8 472.1,359.7 472.8,367.5 475.0,417.1 476.6,441.1 477.6,450.1 478.9,457.2 480.1,461.4 480.7,462.7 481.5,463.6 482.1,463.8 482.5,463.7 483.3,462.8 484.1,461.1 485.0,458.4 486.4,451.2 489.0,432.9 489.8,429.4 490.2,428.8 490.4,428.9 491.0,430.2 491.7,433.2 494.7,456.2 495.5,460.9 496.5,465.4 497.8,468.8 498.4,469.8 499.0,470.3 499.6,470.4 500.2,469.9 500.8,469.0 501.4,467.5 502.2,464.5 503.0,460.1 504.5,448.0 505.9,429.2 508.5,385.4 509.1,379.1 509.7,376.5 509.9,376.5 510.4,378.0 511.2,385.9 514.0,433.4 515.6,453.1 516.7,460.7 517.7,465.4 518.1,466.6 518.7,467.6 519.3,467.7 519.9,467.0 520.7,464.6 521.5,460.6 523.0,448.8 524.2,433.6 526.8,393.2 528.0,380.7 528.6,378.0 528.8,377.6 529.3,377.7 529.9,379.2 531.1,384.1 531.5,384.9 531.9,384.5 532.5,381.6 533.7,371.8 534.1,370.8 534.5,372.6 534.9,377.1 536.6,402.3 537.0,405.6 537.4,407.0 537.6,407.0 537.8,406.5 538.4,403.0 540.8,377.3 541.2,375.6 541.4,375.4 541.7,375.7 542.1,377.5 543.1,389.1 545.3,427.3 546.5,443.5 547.3,451.4 548.2,457.0 549.0,460.7 549.4,461.8 550.0,462.7 550.6,462.6 551.4,460.8 553.4,451.7 553.8,450.5 554.3,450.1 554.7,450.6 555.1,451.9 556.5,458.5 557.3,461.2 557.7,461.9 558.1,462.1 558.5,461.8 559.1,460.5 559.9,457.2 561.0,450.5 564.2,419.7 564.8,416.3 565.2,415.3 565.4,415.3 566.0,416.7 566.9,422.0 569.7,451.9 571.1,463.5 572.7,472.0 573.6,474.9 574.6,477.5 576.2,480.0 577.0,480.7 578.0,481.2 579.0,481.2 579.9,480.9 580.7,480.2 581.3,479.1 582.1,476.7 582.9,472.4 584.7,456.1 585.1,453.3 585.5,452.0 585.8,452.0 586.0,452.4 586.4,454.3 587.8,465.1 588.8,470.0 589.2,471.0 589.8,471.7 590.4,471.6 591.2,470.7 592.9,467.2 594.3,462.5 595.7,456.0 596.9,448.5 599.0,430.1 602.0,391.7 602.8,385.5 603.4,383.9 603.6,384.0 604.0,384.8 605.9,393.3 606.3,394.5 606.7,395.0 607.1,394.8 607.5,393.9 609.1,386.5 609.5,385.8 609.9,386.5 610.3,389.1 611.0,395.9 613.4,432.0 615.0,448.0 616.2,456.0 617.7,462.5 619.3,467.6 620.9,470.7 622.1,472.0 623.1,472.2 624.0,471.8 625.6,470.2 626.0,470.1 626.4,470.3 627.2,471.8 629.6,478.6 631.5,481.8 632.9,483.4 634.5,484.7 636.6,485.9 639.0,487.0 643.3,488.3 648.8,489.4 655.3,490.4 663.0,491.1 664.2,491.1 664.8,490.9 665.4,490.2 666.2,488.7 666.4,488.7 667.7,490.8 668.5,491.3 677.4,491.9" stroke="#4C72B0" stroke-width="1.85" stroke-dasharray="6.9 3.15"/>
<path d="M393.1,493.1 411.4,492.4 417.7,491.8 422.8,491.0 427.6,489.8 435.2,487.2 437.8,486.5 440.6,486.1 446.1,486.1 448.6,485.6 450.0,485.0 451.2,484.2 452.4,483.0 453.7,481.4 455.1,478.9 456.3,476.2 459.1,468.1 463.0,455.3 464.8,446.6 465.8,439.0 466.7,430.7 469.7,383.5 470.3,377.5 470.7,376.1 470.9,376.2 471.3,378.3 471.9,385.2 474.4,429.1 476.0,449.9 477.0,458.2 478.0,463.8 479.3,468.0 480.5,470.2 481.5,470.7 482.5,470.2 483.5,468.6 484.5,465.8 485.6,461.6 486.4,457.2 489.0,439.2 489.6,436.7 490.0,435.9 490.2,435.9 490.6,436.4 491.3,438.8 494.3,459.7 495.3,465.0 496.3,468.7 497.6,471.6 498.2,472.5 499.0,473.0 499.6,473.0 500.2,472.6 501.4,470.5 502.8,465.1 504.3,455.2 505.5,441.9 508.1,404.7 508.7,399.4 509.1,397.8 509.3,397.6 509.5,397.9 509.9,399.6 510.6,405.0 513.4,444.7 514.2,453.5 515.2,461.5 516.5,467.6 517.7,470.8 518.3,471.5 518.9,471.7 519.7,471.3 520.3,470.4 521.3,467.9 522.1,464.7 523.2,459.2 524.0,453.4 525.8,435.0 529.3,391.2 530.5,382.0 530.9,380.6 531.1,380.2 531.5,380.0 531.9,380.6 532.5,382.8 535.1,397.3 535.8,399.1 536.2,399.5 536.6,399.3 536.8,398.9 537.4,396.8 539.4,385.0 539.8,384.0 540.0,383.9 540.4,384.8 541.4,393.0 543.7,423.0 545.1,437.9 546.7,448.5 547.5,451.6 548.6,453.7 549.0,454.0 549.4,453.9 550.0,453.2 552.0,446.9 552.4,446.2 552.6,446.2 553.0,446.8 553.4,448.2 555.1,456.3 556.1,459.6 556.7,460.5 557.3,460.7 557.9,460.1 558.3,459.3 559.5,454.7 560.6,448.0 563.8,416.4 564.4,413.4 564.8,412.9 565.0,413.2 565.6,415.9 566.2,421.0 569.3,455.3 570.1,462.0 571.1,468.3 572.5,474.2 574.0,477.7 574.8,478.9 575.6,479.6 576.6,479.9 577.4,479.5 578.4,478.4 579.5,476.3 581.1,470.5 582.5,462.3 585.3,441.1 586.0,437.8 586.6,435.8 587.0,435.2 587.4,435.4 588.2,437.5 590.4,449.7 591.4,453.8 592.1,454.7 592.5,454.5 593.3,451.6 594.3,442.4 595.1,429.8 598.1,355.1 598.8,345.7 599.2,342.9 599.4,342.7 600.0,346.6 600.6,356.7 602.6,408.5 603.6,429.6 604.7,442.8 605.3,447.1 605.9,449.1 606.1,449.3 606.5,449.1 607.1,447.6 609.9,433.5 610.5,432.2 611.0,432.0 611.2,432.2 611.8,433.6 612.6,437.4 615.8,458.3 616.8,462.7 617.9,465.9 619.5,469.3 626.8,481.9 629.6,485.3 631.3,486.8 632.9,487.9 636.4,489.6 640.4,490.8 645.7,491.6 651.8,492.2 655.3,492.2 657.7,491.9 659.7,491.3 663.4,489.5 665.0,489.4 666.2,489.7 669.5,491.5 671.3,492.2 673.7,492.8 677.4,493.1" stroke="#C44E52" stroke-width="1.1"/>
</g>
<path d="M394.5,283.3H676.3V494.40000000000003H394.5Z" fill="none" stroke="#000" stroke-width="1.0" stroke-linejoin="miter"/>
<path d="M422.65,494.40v3.9 M478.95,494.40v3.9 M535.25,494.40v3.9 M591.55,494.40v3.9 M647.85,494.40v3.9 M394.50,494.10h-4.2 M394.50,458.97h-4.2 M394.50,423.83h-4.2 M394.50,388.70h-4.2 M394.50,353.57h-4.2 M394.50,318.43h-4.2 M394.50,283.30h-4.2" stroke="#000" stroke-width="1.0" fill="none"/>
<text x="414.35" y="512.20" font-size="12.20" textLength="16.91" lengthAdjust="spacingAndGlyphs">−4</text>
<text x="470.66" y="512.20" font-size="12.20" textLength="16.67" lengthAdjust="spacingAndGlyphs">−2</text>
<text x="531.73" y="512.20" font-size="12.20" textLength="7.04" lengthAdjust="spacingAndGlyphs">0</text>
<text x="588.00" y="512.20" font-size="12.20" textLength="6.78" lengthAdjust="spacingAndGlyphs">2</text>
<text x="644.33" y="512.20" font-size="12.20" textLength="7.04" lengthAdjust="spacingAndGlyphs">4</text>
<text x="367.29" y="499.10" font-size="12.20" textLength="18.54" lengthAdjust="spacingAndGlyphs">0.0</text>
<text x="367.29" y="463.97" font-size="12.20" textLength="18.27" lengthAdjust="spacingAndGlyphs">0.2</text>
<text x="367.29" y="428.83" font-size="12.20" textLength="18.53" lengthAdjust="spacingAndGlyphs">0.4</text>
<text x="367.28" y="393.70" font-size="12.20" textLength="18.65" lengthAdjust="spacingAndGlyphs">0.6</text>
<text x="367.29" y="358.57" font-size="12.20" textLength="18.58" lengthAdjust="spacingAndGlyphs">0.8</text>
<text x="367.32" y="323.43" font-size="12.20" textLength="18.50" lengthAdjust="spacingAndGlyphs">1.0</text>
<text x="367.34" y="288.30" font-size="12.20" textLength="18.22" lengthAdjust="spacingAndGlyphs">1.2</text>
<path d="M404.90,298.80h24.3" stroke="#4C72B0" stroke-width="1.85" stroke-dasharray="6.9 3.15" fill="none"/>
<text x="438.50" y="302.50" font-size="12.20" textLength="66.47" lengthAdjust="spacingAndGlyphs">SV doubles</text>
<path d="M405.00,316.20h24" stroke="#CCB974" stroke-width="1.9" stroke-dasharray="11.6 2.8 2.0 2.8" fill="none"/>
<text x="438.36" y="319.90" font-size="12.20" textLength="68.43" lengthAdjust="spacingAndGlyphs">QC M3 only</text>
<path d="M405.00,333.60h24" stroke="#C44E52" stroke-width="1.1" fill="none"/>
<text x="438.37" y="337.30" font-size="12.20" textLength="82.61" lengthAdjust="spacingAndGlyphs">QC M3+ZNEC</text>
<text x="597.30" y="303.20" font-size="12.2" text-anchor="start" textLength="8.98" lengthAdjust="spacingAndGlyphs" font-style="italic">N</text>
<text x="607.10" y="305.20" font-size="8.6" text-anchor="start" textLength="5.33" lengthAdjust="spacingAndGlyphs" font-style="italic">b</text>
<text x="615.30" y="303.20" font-size="12.2" text-anchor="start" textLength="8.60" lengthAdjust="spacingAndGlyphs">=</text>
<text x="627.00" y="303.20" font-size="12.2" text-anchor="start" textLength="36.55" lengthAdjust="spacingAndGlyphs">6, 14q</text>
<text x="8.7" y="19.3" font-family='"Liberation Serif", serif' font-size="15" textLength="17.0" lengthAdjust="spacingAndGlyphs">(a)</text>
<text x="8.7" y="272.6" font-family='"Liberation Serif", serif' font-size="15" textLength="17.0" lengthAdjust="spacingAndGlyphs">(b)</text>
<text x="346.8" y="19.3" font-family='"Liberation Serif", serif' font-size="15" textLength="17.0" lengthAdjust="spacingAndGlyphs">(c)</text>
<text x="346.8" y="272.6" font-family='"Liberation Serif", serif' font-size="15" textLength="17.0" lengthAdjust="spacingAndGlyphs">(d)</text>
<g transform="translate(19.0,175.16) rotate(-90)"><text x="0.00" y="0.00" font-size="12.2" text-anchor="start" textLength="26.30" lengthAdjust="spacingAndGlyphs">DOS</text><text x="26.30" y="2.50" font-size="8.6" text-anchor="start" textLength="15.85" lengthAdjust="spacingAndGlyphs">imp</text><text x="45.97" y="0.00" font-size="12.2" text-anchor="start" textLength="31.95" lengthAdjust="spacingAndGlyphs">(a.u.)</text></g>
<g transform="translate(19.0,428.46) rotate(-90)"><text x="0.00" y="0.00" font-size="12.2" text-anchor="start" textLength="26.30" lengthAdjust="spacingAndGlyphs">DOS</text><text x="26.30" y="2.50" font-size="8.6" text-anchor="start" textLength="15.85" lengthAdjust="spacingAndGlyphs">imp</text><text x="45.97" y="0.00" font-size="12.2" text-anchor="start" textLength="31.95" lengthAdjust="spacingAndGlyphs">(a.u.)</text></g>
<text x="177.45" y="528.20" font-size="12.2" text-anchor="start" textLength="9.80" lengthAdjust="spacingAndGlyphs" font-style="italic">ω</text>
<text x="191.25" y="528.20" font-size="12.2" text-anchor="start" textLength="24.96" lengthAdjust="spacingAndGlyphs">(eV)</text>
<text x="515.45" y="528.20" font-size="12.2" text-anchor="start" textLength="9.80" lengthAdjust="spacingAndGlyphs" font-style="italic">ω</text>
<text x="529.25" y="528.20" font-size="12.2" text-anchor="start" textLength="24.96" lengthAdjust="spacingAndGlyphs">(eV)</text>
</svg></body></html>
